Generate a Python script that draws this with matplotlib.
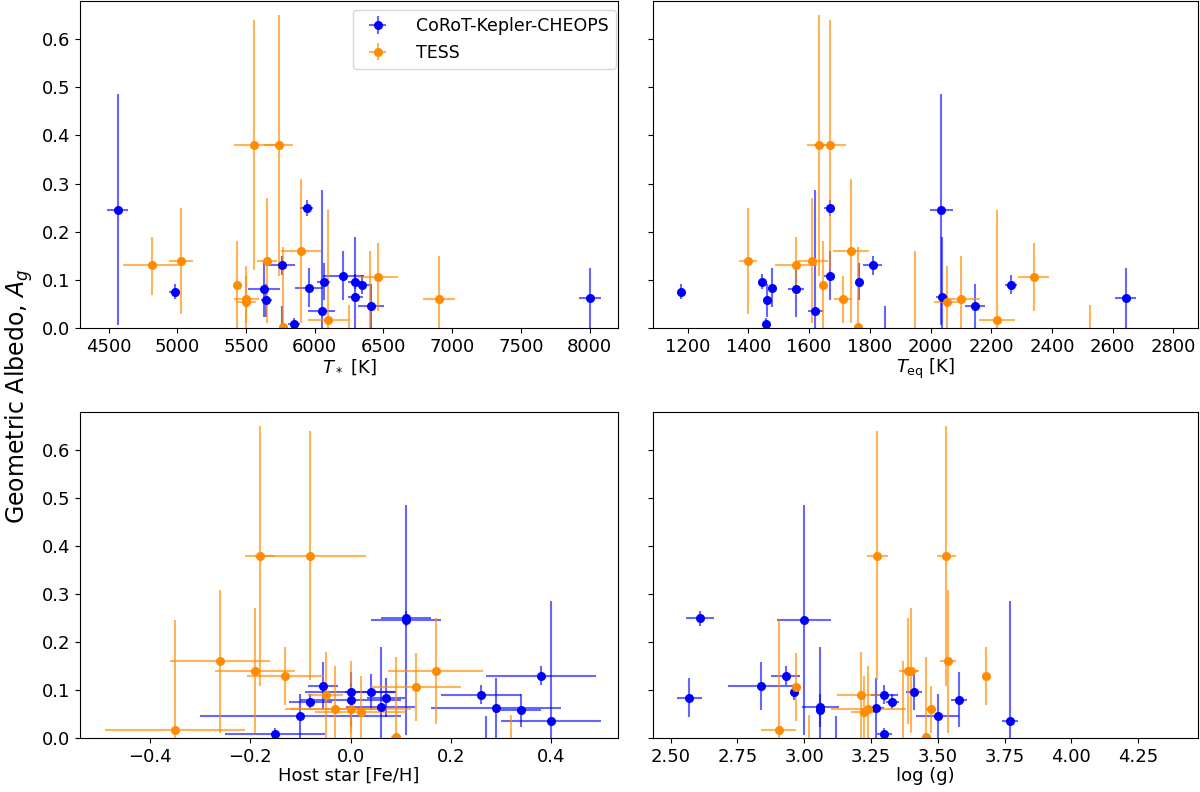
import matplotlib
matplotlib.use("Agg")
import matplotlib.pyplot as plt
import numpy as np

# ---------------- CoRoT-Kepler-CHEOPS sample ----------------
ag_ckc = [0.246, 0.249, 0.130, 0.109, 0.096, 0.096, 0.090, 0.084, 0.080, 0.0755,
          0.064, 0.063, 0.059, 0.046, 0.036, 0.009, -0.030]
ag_ckc_lo = [0.240, 0.016, 0.020, 0.050, 0.016, 0.038, 0.020, 0.040, 0.058, 0.016,
             0.064, 0.063, 0.036, 0.046, 0.036, 0.009, 0.030]
ag_ckc_hi = [0.239, 0.016, 0.020, 0.050, 0.016, 0.038, 0.020, 0.040, 0.057, 0.016,
             0.125, 0.062, 0.033, 0.045, 0.250, 0.012, 0.075]
tstar_ckc = [4565, 5941, 5760, 6208, 6296, 6065, 6347, 5959, 5630, 4981,
             6296, 8000, 5646, 6411, 6051, 5849, 5760]
tstar_ckc_err = [78, 48, 97, 150, 57, 48, 58, 103, 119, 40, 57, 80, 39, 95, 97, 46, 0]
teq_ckc = [2036, 1668, 1809, 1668, 1445, 1764, 2265, 1479, 1556, 1178,
           2037, 2643, 1463, 2146, 1621, 1457, 1849]
teq_ckc_err = [38, 18, 32, 18, 12, 10, 21, 8, 27, 6, 20, 35, 8, 33, 25, 10, 0]
feh_ckc = [0.11, 0.11, 0.38, -0.055, 0.0, 0.04, 0.26, 0.07, 0.0, -0.08,
           0.06, 0.29, 0.34, -0.10, 0.40, -0.15, 0.27]
feh_ckc_err = [0.07, 0.05, 0.11, 0.03, 0.09, 0.05, 0.08, 0.038, 0.10, 0.043,
               0.068, 0.13, 0.04, 0.20, 0.10, 0.10, 0.0]
logg_ckc = [3.00, 2.61, 2.93, 2.84, 2.96, 3.41, 3.30, 2.57, 3.58, 3.33,
            3.06, 3.27, 3.06, 3.50, 3.77, 3.30, 3.12]
logg_ckc_err = [0.10, 0.052, 0.056, 0.125, 0.01, 0.03, 0.05, 0.046, 0.03, 0.025,
                0.07, 0.03, 0.01, 0.08, 0.03, 0.028, 0.0]

# ---------------- TESS sample ----------------
ag_tess = [0.130, 0.140, 0.090, 0.380, 0.380, 0.140, 0.002, 0.160, 0.016, 0.106,
           0.061, 0.054, 0.060, -0.050, -0.050]
ag_tess_lo = [0.061, 0.110, 0.090, 0.271, 0.259, 0.130, 0.002, 0.150, 0.016, 0.070,
              0.061, 0.054, 0.049, 0.050, 0.050]
ag_tess_hi = [0.059, 0.110, 0.090, 0.270, 0.260, 0.130, 0.167, 0.149, 0.230, 0.070,
              0.089, 0.075, 0.049, 0.210, 0.097]
tstar_tess = [4813, 5025, 5437, 5737, 5561, 5649, 5771, 5900, 6099, 6461,
              6906, 5500, 5500, 6400, 6250]
tstar_tess_err = [210, 88, 15, 108, 150, 73, 15, 143, 148, 142, 116, 70, 91, 0, 0]
teq_tess = [1557, 1399, 1646, 1632, 1668, 1611, 1761, 1737, 2219, 2340,
            2101, 2055, 1711, 1950, 2525]
teq_tess_err = [70, 29, 5, 38, 53, 52, 5, 59, 60, 51, 63, 44, 29, 0, 0]
feh_tess = [-0.13, 0.17, -0.049, -0.18, -0.08, -0.19, 0.09, -0.26, -0.35, 0.13,
            -0.03, 0.02, 0.0, 0.0, 0.32]
feh_tess_err = [0.077, 0.095, 0.035, 0.03, 0.11, 0.08, 0.01, 0.10, 0.14, 0.09,
                0.10, 0.09, 0.12, 0.0, 0.0]
logg_tess = [3.68, 3.39, 3.214, 3.532, 3.273, 3.40, 3.454, 3.54, 2.904, 2.97,
             3.24, 3.222, 3.475, 3.37, 3.017]
logg_tess_err = [0.015, 0.035, 0.093, 0.035, 0.039, 0.03, 0.01, 0.03, 0.064, 0.01,
                 0.14, 0.047, 0.02, 0.0, 0.0]

labels = ["CoRoT-Kepler-CHEOPS", "TESS"]
xlabels = [r"$T_*$ [K]", r"$T_{\rm eq}$ [K]", "Host star [Fe/H]", "log (g)"]

FS = 13
plt.rcParams["font.size"] = FS

fig = plt.figure(figsize=(12, 7.92), dpi=100)
W, H = 1200.0, 792.0


def box(x0, x1, y0, y1):
    return [x0 / W, 1 - y1 / H, (x1 - x0) / W, (y1 - y0) / H]


ax1 = fig.add_axes(box(80, 618, 1, 328))
ax2 = fig.add_axes(box(653, 1198, 1, 328))
ax3 = fig.add_axes(box(80, 618, 412, 738))
ax4 = fig.add_axes(box(653, 1198, 412, 738))
axes = [ax1, ax2, ax3, ax4]

blue = "#0000ff"
orange = "#ff8c00"

panels = [
    (ax1, tstar_ckc, tstar_ckc_err, tstar_tess, tstar_tess_err),
    (ax2, teq_ckc, teq_ckc_err, teq_tess, teq_tess_err),
    (ax3, feh_ckc, feh_ckc_err, feh_tess, feh_tess_err),
    (ax4, logg_ckc, logg_ckc_err, logg_tess, logg_tess_err),
]

for ax, xb, xbe, xo, xoe in panels:
    ax.errorbar(xb, ag_ckc, yerr=[ag_ckc_lo, ag_ckc_hi], xerr=xbe,
                fmt="o", color=blue, ms=5.5, elinewidth=1.5,
                ecolor=(0, 0, 1, 0.6), label=labels[0])
    ax.errorbar(xo, ag_tess, yerr=[ag_tess_lo, ag_tess_hi], xerr=xoe,
                fmt="o", color=orange, ms=5.5, elinewidth=1.5,
                ecolor=(1, 0.549, 0, 0.65), label=labels[1])

xlims = [(4291, 8207), (1086, 2881), (-0.54, 0.534), (2.434, 4.474)]
xticks = [np.arange(4500, 8001, 500), np.arange(1200, 2801, 200),
          [-0.4, -0.2, 0.0, 0.2, 0.4], [2.5, 2.75, 3.0, 3.25, 3.5, 3.75, 4.0, 4.25]]
xticklabels = [None, None, ["\u22120.4", "\u22120.2", "0.0", "0.2", "0.4"],
               ["2.50", "2.75", "3.00", "3.25", "3.50", "3.75", "4.00", "4.25"]]

for i, ax in enumerate(axes):
    ax.set_xlim(*xlims[i])
    ax.set_ylim(0, 0.679)
    ax.set_xticks(xticks[i])
    if xticklabels[i] is not None:
        ax.set_xticklabels(xticklabels[i])
    ax.set_yticks([0.0, 0.1, 0.2, 0.3, 0.4, 0.5, 0.6])
    ax.set_xlabel(xlabels[i], fontsize=FS, labelpad=1)
    ax.tick_params(labelsize=FS)
    if i in (1, 3):
        ax.tick_params(labelleft=False)

ax1.legend(loc="upper right", fontsize=12.5, borderaxespad=0, handletextpad=1.2,
           bbox_to_anchor=(615.5 / W, 1 - 10 / H), bbox_transform=fig.transFigure)
fig.text(0.003, 0.5, r"Geometric Albedo, $A_g$", rotation=90, va="center",
         ha="left", fontsize=17)

fig.savefig("out.png", dpi=100)
